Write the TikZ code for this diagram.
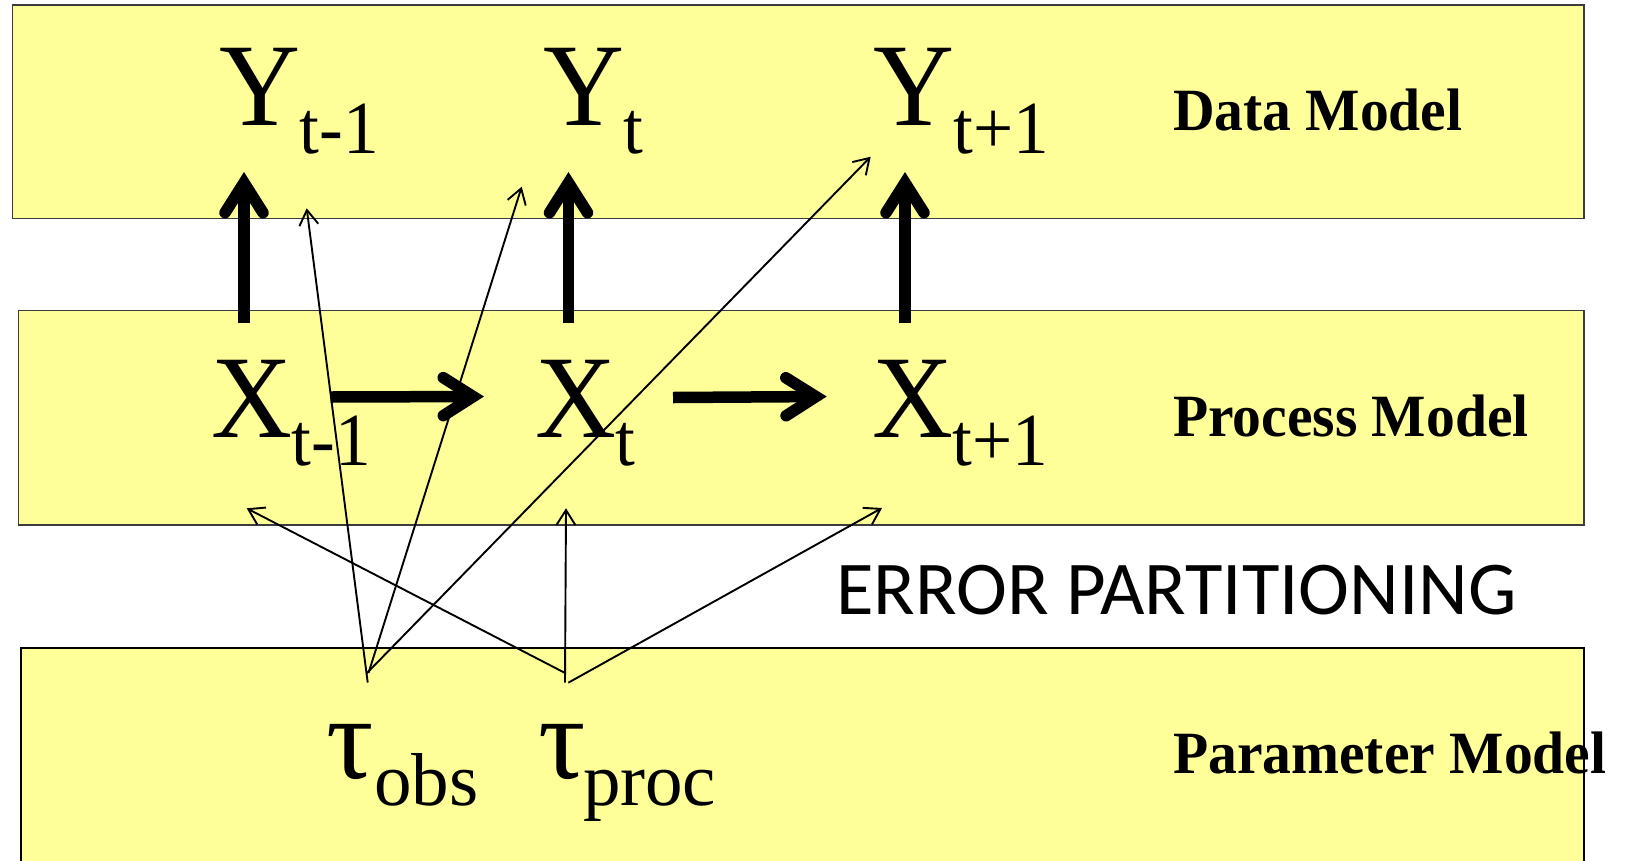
\documentclass[tikz,border=0pt]{standalone}
\usepackage{fontspec}
\setmainfont{Liberation Serif}
\newfontfamily\labelsans{Carlito}
\usetikzlibrary{arrows.meta,calc}

\definecolor{boxyellow}{RGB}{255,255,153}
\definecolor{boxedge}{RGB}{60,60,60}

% lowered subscript used for the time indices
\newcommand{\lowidx}[1]{\raisebox{-28pt}{\fontsize{75}{75}\selectfont #1}}
\newcommand{\narrow}[1]{\scalebox{0.95}[1]{#1}}

\tikzset{
  layer/.style={fill=boxyellow, draw=boxedge, line width=1.3pt},
  varlabel/.style={anchor=base west, inner sep=0pt, outer sep=0pt,
    font=\fontsize{118}{120}\selectfont},
  modeltag/.style={anchor=base west, inner sep=0pt, outer sep=0pt,
    font=\bfseries\fontsize{60}{62}\selectfont},
  flow/.style={line width=11.5pt,
    -{Straight Barb[length=30pt,width=38pt,line cap=round,line join=miter]}},
  noise/.style={line width=1.9pt,
    -{Straight Barb[length=15pt,width=19pt]}}
}

\begin{document}
\begin{tikzpicture}[x=1pt,y=-1pt]
\useasboundingbox (0,0) rectangle (1632,860);
\clip (0,0) rectangle (1632,860);

% the three model layers
\draw[layer] (12.5,5) rectangle (1584,218.5);
\draw[layer] (18.3,310.7) rectangle (1584,525);
\draw[layer, draw=black] (21,648) rectangle (1584,880);

% observations
\node[varlabel] (Y1) at (219,125) {\narrow{Y\lowidx{t-1}}};
\node[varlabel] (Y2) at (543,125) {\narrow{Y\lowidx{t}}};
\node[varlabel] (Y3) at (873,125) {\narrow{Y\lowidx{t+1}}};

% latent states
\node[varlabel] (X1) at (211,437.5) {\narrow{X\lowidx{t-1}}};
\node[varlabel] (X2) at (535,437.5) {\narrow{X\lowidx{t}}};
\node[varlabel] (X3) at (872,437.5) {\narrow{X\lowidx{t+1}}};

% precision parameters
\node[varlabel] (tobs) at (326,778)
  {\makebox[48pt][l]{τ}\raisebox{-27pt}{\fontsize{75}{75}\selectfont obs}};
\node[varlabel] (tproc) at (538,778)
  {\makebox[45pt][l]{τ}\raisebox{-27pt}{\fontsize{75}{75}\selectfont proc}};

% layer names
\node[modeltag] (dm) at (1173,130) {\scalebox{0.96}[1]{Data Model}};
\node[modeltag] (pm) at (1173,436) {\scalebox{0.96}[1]{Process Model}};
\node[modeltag] (parm) at (1173,773) {\scalebox{0.96}[1]{Parameter Model}};
\node[anchor=base west, inner sep=0pt, font=\labelsans\fontsize{76}{78}\selectfont]
  (ep) at (836,614) {\scalebox{1.01}[1]{ERROR PARTITIONING}};

% state -> observation
\draw[flow] ($(X1.base west)+(33,-114.5)$) -- ($(Y1.base west)+(25,47)$);
\draw[flow] ($(X2.base west)+(33.5,-114.5)$) -- ($(Y2.base west)+(25.5,47)$);
\draw[flow] ($(X3.base west)+(33,-114.5)$) -- ($(Y3.base west)+(32,47)$);

% state -> state
\draw[flow] ($(X1.base west)+(119.5,-40.5)$) -- ($(X2.base west)+(-51,-41)$);
\draw[flow] ($(X2.base west)+(138,-40)$) -- ($(X3.base west)+(-45.3,-41)$);

% observation error
\draw[noise] ($(tobs.base west)+(41.7,-95.5)$) -- ($(Y1.base west)+(87.7,83.3)$);
\draw[noise] ($(tobs.base west)+(42.5,-105)$) -- ($(Y2.base west)+(-21.3,61.7)$);
\draw[noise] ($(tobs.base west)+(40.5,-104.5)$) -- ($(Y3.base west)+(-2.3,31.7)$);

% process error
\draw[noise] ($(tproc.base west)+(27.7,-104.7)$) -- ($(X1.base west)+(35.7,70.8)$);
\draw[noise] ($(tproc.base west)+(27,-95.3)$) -- ($(X2.base west)+(31,70.8)$);
\draw[noise] ($(tproc.base west)+(30.3,-95.3)$) -- ($(X3.base west)+(10,70.5)$);
\end{tikzpicture}
\end{document}
